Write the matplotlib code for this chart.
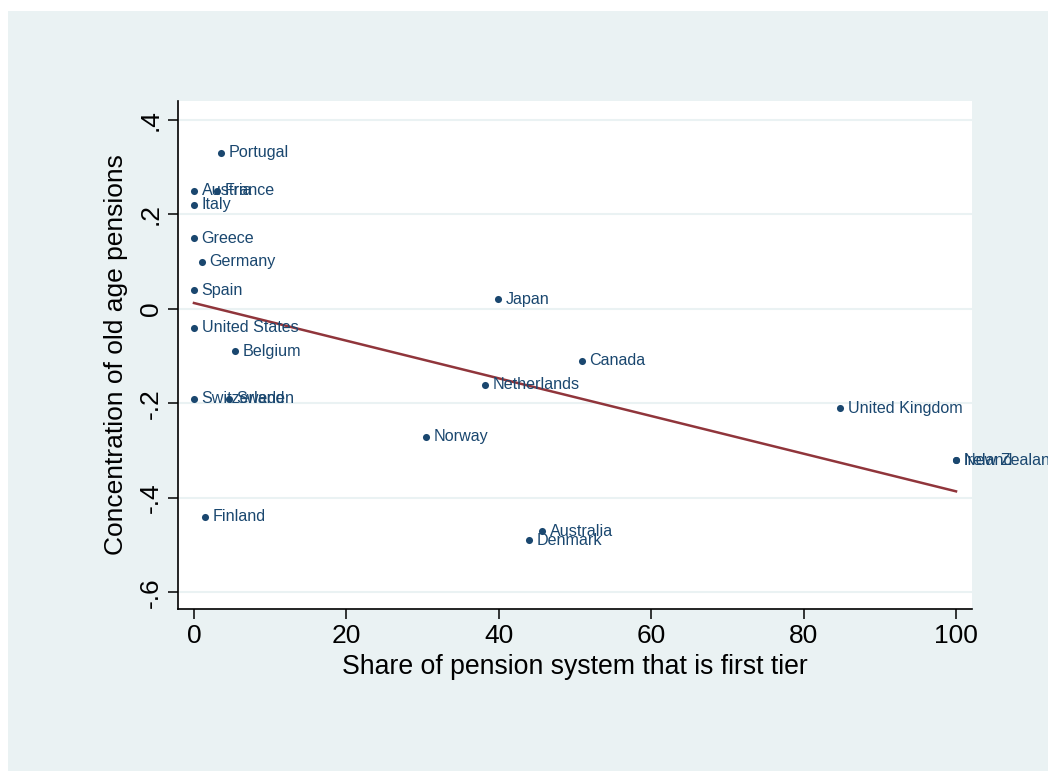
import numpy as np
import matplotlib.pyplot as plt
from matplotlib.patches import Rectangle

# Country data: share of first-tier pensions vs. concentration of old age pensions
countries = ["Portugal", "Austria", "France", "Italy", "Greece", "Germany",
             "Spain", "United States", "Belgium", "Switzerland", "Sweden",
             "Japan", "Canada", "Netherlands", "Norway", "United Kingdom",
             "Ireland", "New Zealand", "Australia", "Denmark", "Finland"]
first_tier = [3.5, 0.0, 3.0, 0.0, 0.0, 1.0,
              0.0, 0.0, 5.4, 0.0, 4.6,
              39.9, 50.9, 38.2, 30.4, 84.8,
              100.0, 100.0, 45.7, 44.0, 1.4]
concentration = [0.33, 0.25, 0.25, 0.22, 0.15, 0.10,
                 0.04, -0.04, -0.09, -0.19, -0.19,
                 0.02, -0.11, -0.16, -0.27, -0.21,
                 -0.32, -0.32, -0.47, -0.49, -0.44]

x_ticks = [0, 20, 40, 60, 80, 100]
y_ticks = [-0.6, -0.4, -0.2, 0.0, 0.2, 0.4]
y_ticklabels = ["-.6", "-.4", "-.2", "0", ".2", ".4"]

navy = "#1a476f"
maroon = "#90353b"
bg = "#eaf2f3"

plt.rcParams["font.family"] = ["Liberation Sans", "DejaVu Sans"]

fig = plt.figure(figsize=(10.48, 7.71), dpi=100, facecolor="white")
# graph region background, behind the axes
fig.add_artist(Rectangle((8 / 1048, 0), 1 - 8 / 1048, 1 - 11 / 771,
                         transform=fig.transFigure, facecolor=bg,
                         edgecolor="none", zorder=-10))

ax = fig.add_axes([0.1698, 0.2101, 0.7577, 0.6589])
ax.set_facecolor("white")

x = np.array(first_tier)
y = np.array(concentration)

ax.scatter(x, y, s=26, color=navy, zorder=3, linewidths=0)
for name, xi, yi in zip(countries, first_tier, concentration):
    ax.annotate(name, (xi, yi), xytext=(5.5, 0), textcoords="offset points",
                ha="left", va="center", fontsize=11.6, color=navy,
                annotation_clip=False, zorder=4)

# linear fit
slope, intercept = np.polyfit(x, y, 1)
xf = np.array([x.min(), x.max()])
ax.plot(xf, intercept + slope * xf, color=maroon, lw=1.8, zorder=2)

ax.set_xlim(-2.1, 102.1)
ax.set_ylim(-0.635, 0.44)
ax.set_xticks(x_ticks)
ax.set_yticks(y_ticks)
ax.set_yticklabels(y_ticklabels, rotation=90, va="center")
ax.grid(axis="y", color=bg, lw=1.5, zorder=1)
ax.set_axisbelow(True)

for side in ["top", "right"]:
    ax.spines[side].set_visible(False)
for side in ["left", "bottom"]:
    ax.spines[side].set_linewidth(1.2)
ax.tick_params(axis="both", direction="out", length=7, width=1.1,
               labelsize=19, pad=4)

ax.set_xlabel("Share of pension system that is first tier", fontsize=19.2,
              labelpad=4)
ax.set_ylabel("Concentration of old age pensions", fontsize=19,
              labelpad=8)

fig.savefig("out.png", dpi=100, facecolor=fig.get_facecolor())
